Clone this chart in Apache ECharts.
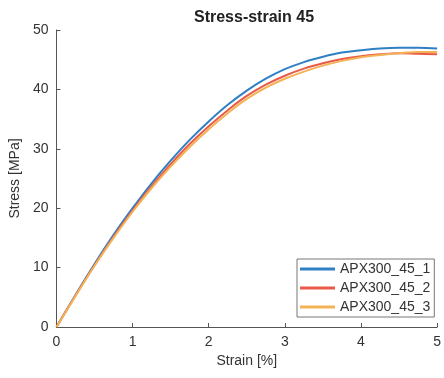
<!DOCTYPE html>
<html>
<head>
<meta charset="utf-8">
<script src="https://cdn.jsdelivr.net/npm/echarts@6/dist/echarts.min.js"></script>
<style>html,body{margin:0;padding:0;background:#fff}#c{width:444px;height:378px}</style>
</head>
<body>
<div id="c"></div>
<script>
var strain = [0,0.25,0.5,0.75,1.0,1.25,1.5,1.75,2.0,2.25,2.5,2.75,3.0,3.25,3.5,3.75,4.0,4.25,4.5,4.75,5.0];
var stress1 = [0,5.4,10.6,15.5,20.0,24.2,28.0,31.5,34.6,37.4,39.8,41.8,43.4,44.6,45.5,46.2,46.6,46.9,47.0,47.0,46.9];
var stress2 = [0,5.3,10.4,15.2,19.6,23.7,27.4,30.8,33.8,36.5,38.9,40.8,42.3,43.5,44.4,45.1,45.6,45.9,46.1,46.0,45.9];
var stress3 = [0,5.2,10.3,15.0,19.4,23.4,27.0,30.3,33.3,36.0,38.4,40.3,41.8,43.0,44.0,44.8,45.4,45.8,46.1,46.3,46.3];
var names = ['APX300_45_1','APX300_45_2','APX300_45_3'];
var colors = ['#2f7fc4','#ea5a47','#f4b257'];
var xTicks = [0,1,2,3,4,5];
var yTicks = [0,10,20,30,40,50];

function pairs(ys){ return strain.map(function(x,i){ return [x, ys[i]]; }); }
var all = [stress1, stress2, stress3];
var FONT = 'Liberation Sans, Arial, Helvetica, sans-serif';

var chart = echarts.init(document.getElementById('c'), null, {renderer:'canvas'});
chart.setOption({
  animation: false,
  backgroundColor: '#fff',
  title: {
    text: 'Stress-strain 45',
    left: 249, top: 5, textAlign: 'center',
    textStyle: {fontFamily: FONT, fontSize: 16, fontWeight: 'bold', color: '#222'}
  },
  grid: {left: 55, right: 3, top: 30, bottom: 51, containLabel: false},
  legend: {
    orient: 'vertical', left: 297, top: 259,
    data: names,
    icon: 'rect', itemWidth: 35, itemHeight: 3, itemGap: 5,
    padding: [3, 4, 3, 3],
    backgroundColor: '#fff', borderColor: '#777', borderWidth: 1,
    textStyle: {fontFamily: FONT, fontSize: 14, color: '#333'}
  },
  xAxis: {
    type: 'value', min: xTicks[0], max: xTicks[xTicks.length-1], interval: 1,
    name: 'Strain [%]', nameLocation: 'middle', nameGap: 18,
    nameTextStyle: {fontFamily: FONT, fontSize: 14, color: '#333'},
    axisLine: {lineStyle: {color: '#555', width: 1}},
    axisTick: {inside: true, length: 4, lineStyle: {color: '#555'}},
    axisLabel: {fontFamily: FONT, fontSize: 14, color: '#333', margin: 8},
    splitLine: {show: false}
  },
  yAxis: {
    type: 'value', min: yTicks[0], max: yTicks[yTicks.length-1], interval: 10,
    name: 'Stress [MPa]', nameLocation: 'middle', nameGap: 24,
    nameTextStyle: {fontFamily: FONT, fontSize: 14, color: '#333'},
    axisLine: {show: true, lineStyle: {color: '#555', width: 1}},
    axisTick: {show: true, inside: true, length: 4, lineStyle: {color: '#555'}},
    axisLabel: {fontFamily: FONT, fontSize: 14, color: '#333', margin: 8},
    splitLine: {show: false}
  },
  series: all.map(function(ys, i){
    return {
      name: names[i], type: 'line', data: pairs(ys),
      smooth: 0.4, symbol: 'none',
      lineStyle: {color: colors[i], width: 2},
      itemStyle: {color: colors[i]}
    };
  })
});
</script>
</body>
</html>
